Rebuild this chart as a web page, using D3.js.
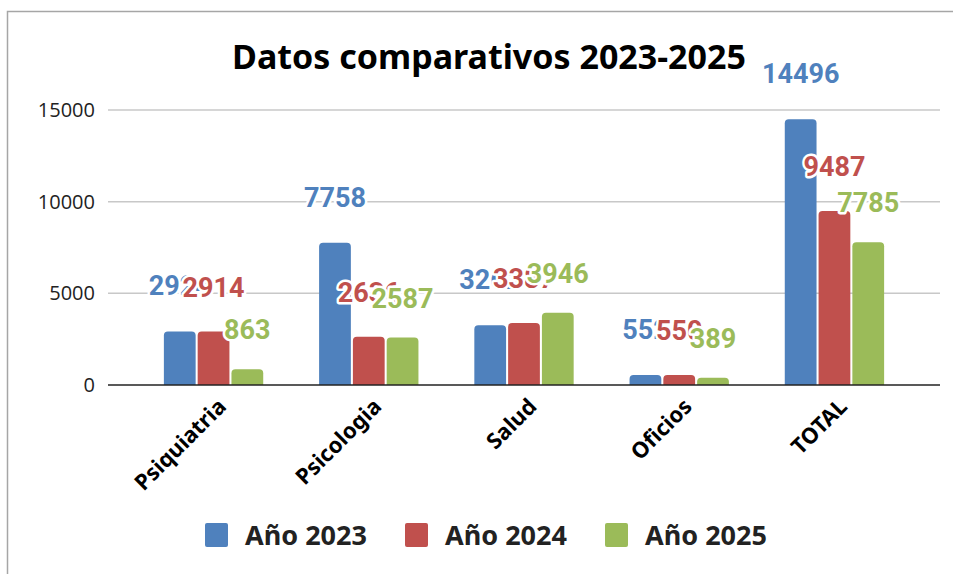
<!DOCTYPE html>
<html>
<head>
<meta charset="utf-8">
<script src="https://cdn.jsdelivr.net/npm/d3@7"></script>
<style>
  body { margin: 0; background: #fff; }
  svg { display: block; }
</style>
</head>
<body>
<svg width="953" height="574"></svg>
<script>
// chart data
var categories = ['Psiquiatria', 'Psicologia', 'Salud', 'Oficios', 'TOTAL'];
var seriesNames = ['Año 2023', 'Año 2024', 'Año 2025'];
var values2023 = [2924, 7758, 3262, 552, 14496];
var values2024 = [2914, 2636, 3387, 550, 9487];
var values2025 = [863, 2587, 3946, 389, 7785];
var yTicks = [0, 5000, 10000, 15000];

var colors = ['#4f81bd', '#c0504d', '#9bbb59'];
var labelOffset = [36, 35, 30];
var allValues = [values2023, values2024, values2025];

var svg = d3.select('svg');

// outer frame
svg.append('path')
  .attr('d', 'M7.5,580 L7.5,11.5 L960,11.5')
  .attr('fill', 'none')
  .attr('stroke', '#a6a6a6')
  .attr('stroke-width', 1.5);

svg.append('text')
  .attr('x', 489).attr('y', 69)
  .attr('text-anchor', 'middle')
  .style('font-family', 'Noto Sans')
  .style('font-weight', 'bold')
  .style('font-size', '34px')
  .attr('fill', '#000')
  .text('Datos comparativos 2023-2025');

var x = d3.scaleBand().domain(categories).range([108, 940]).padding(0.36);
var xs = d3.scaleBand().domain(d3.range(3)).range([0, x.bandwidth()]).paddingInner(0.06);
var y = d3.scaleLinear().domain([0, 15000]).range([385, 110]);

// grid
svg.append('g').selectAll('line')
  .data(yTicks.filter(function(d){return d > 0;}))
  .enter().append('line')
  .attr('x1', 108).attr('x2', 940)
  .attr('y1', function(d){return y(d);})
  .attr('y2', function(d){return y(d);})
  .attr('stroke', '#c8c8c8')
  .attr('stroke-width', 1.5);

svg.append('g').selectAll('text')
  .data(yTicks)
  .enter().append('text')
  .attr('x', 95)
  .attr('y', function(d){return y(d);})
  .attr('dy', '0.35em')
  .attr('text-anchor', 'end')
  .style('font-family', 'Open Sans')
  .style('font-size', '20px')
  .attr('fill', '#222')
  .text(function(d){return d;});

function barPath(x0, w, y0, y1, r) {
  r = Math.min(r, (y0 - y1), w / 2);
  return 'M' + x0 + ',' + y0 +
    'L' + x0 + ',' + (y1 + r) +
    'Q' + x0 + ',' + y1 + ' ' + (x0 + r) + ',' + y1 +
    'L' + (x0 + w - r) + ',' + y1 +
    'Q' + (x0 + w) + ',' + y1 + ' ' + (x0 + w) + ',' + (y1 + r) +
    'L' + (x0 + w) + ',' + y0 + 'Z';
}

var bars = [];
allValues.forEach(function(vals, s) {
  vals.forEach(function(v, i) {
    bars.push({cat: categories[i], s: s, v: v});
  });
});

svg.append('g').selectAll('path')
  .data(bars)
  .enter().append('path')
  .attr('d', function(d){
    return barPath(x(d.cat) + xs(d.s), xs.bandwidth(), y(0), y(d.v), 4);
  })
  .attr('fill', function(d){return colors[d.s];});

// baseline
svg.append('line')
  .attr('x1', 108).attr('x2', 940)
  .attr('y1', y(0)).attr('y2', y(0))
  .attr('stroke', '#222')
  .attr('stroke-width', 1.5);

// value labels, series by series so later ones sit on top
svg.append('g').selectAll('text')
  .data(bars)
  .enter().append('text')
  .attr('x', function(d){return x(d.cat) + xs(d.s) + xs.bandwidth() / 2;})
  .attr('y', function(d){return y(d.v) - labelOffset[d.s];})
  .attr('text-anchor', 'middle')
  .style('font-family', 'Roboto')
  .style('font-weight', 'bold')
  .style('font-size', '27px')
  .attr('fill', function(d){return colors[d.s];})
  .attr('stroke', '#fff')
  .attr('stroke-width', 5)
  .attr('stroke-linejoin', 'round')
  .attr('paint-order', 'stroke')
  .text(function(d){return d.v;});

// category labels
svg.append('g').selectAll('text')
  .data(categories)
  .enter().append('text')
  .attr('transform', function(d){
    return 'translate(' + (x(d) + x.bandwidth() / 2 + 14) + ',408) rotate(-45)';
  })
  .attr('text-anchor', 'end')
  .style('font-family', 'Noto Sans')
  .style('font-weight', 'bold')
  .style('font-size', '22px')
  .attr('fill', '#000')
  .text(function(d){return d;});

// legend
var legendX = [205, 405, 605];
var legend = svg.append('g').selectAll('g')
  .data(seriesNames)
  .enter().append('g')
  .attr('transform', function(d, i){return 'translate(' + legendX[i] + ',523)';});

legend.append('rect')
  .attr('width', 23).attr('height', 24)
  .attr('rx', 2)
  .attr('fill', function(d, i){return colors[i];});

legend.append('text')
  .attr('x', 40).attr('y', 22)
  .style('font-family', 'Noto Sans')
  .style('font-weight', 'bold')
  .style('font-size', '27px')
  .attr('fill', '#222')
  .text(function(d){return d;});
</script>
</body>
</html>
